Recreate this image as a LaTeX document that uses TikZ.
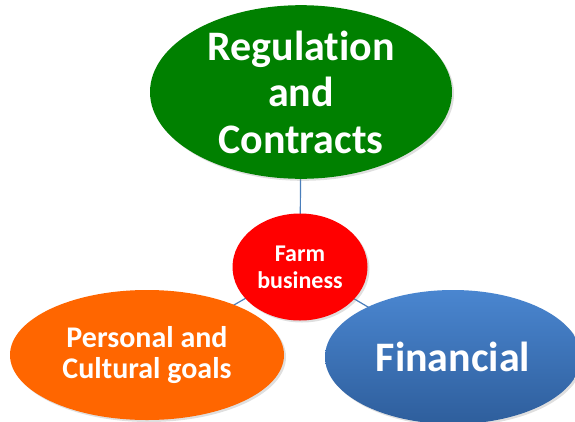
\documentclass[tikz,border=0pt]{standalone}
\usepackage{fontspec}
\setmainfont[Ligatures={NoCommon}]{Carlito}
\usepackage{tikz}
\usetikzlibrary{shapes.geometric}
\usetikzlibrary{shadows}
\usetikzlibrary{backgrounds}

\definecolor{reggreen}{HTML}{008000}
\definecolor{farmred}{HTML}{FF0000}
\definecolor{goalorange}{HTML}{FF6600}
\definecolor{fintop}{HTML}{4A86D0}
\definecolor{finbottom}{HTML}{2E5E9C}
\definecolor{linkblue}{HTML}{4A7EBB}

\begin{document}
\begin{tikzpicture}[x=1pt,y=-1pt,
        blob/.style={ellipse,inner sep=0pt,text=white,align=center,
            font=\bfseries,
            drop shadow={opacity=0.25,shadow xshift=2pt,shadow yshift=-2pt}},
        link/.style={draw=linkblue,line width=1.2pt}]
        \useasboundingbox (0,0) rectangle (575,421);

        % Outer ellipses
        \node [blob,fill=reggreen,minimum width=302pt,minimum height=166pt,
            font=\fontsize{42}{46.5}\bfseries] (reg) at (301,92)
            {Regulation\\and\\Contracts};
        \node [blob,fill=goalorange,minimum width=274pt,minimum height=130pt,
            font=\fontsize{30}{31}\bfseries] (goals) at (147,355)
            {Personal and\\Cultural goals};
        \node [blob,top color=fintop,bottom color=finbottom,
            minimum width=256pt,minimum height=134pt,
            font=\fontsize{42}{46}\bfseries] (fin) at (453,357)
            {Financial};

        % Centre
        \node [blob,fill=farmred,minimum width=135pt,minimum height=107pt,
            font=\fontsize{24}{27}\bfseries] (farm) at (300,267)
            {Farm\\business};

        % Links to the centre
        \begin{pgfonlayer}{background}
            \draw [link] (farm.center) -- (reg.center);
            \draw [link] (farm.center) -- (goals.center);
            \draw [link] (farm.center) -- (fin.center);
        \end{pgfonlayer}

\end{tikzpicture}
\end{document}
